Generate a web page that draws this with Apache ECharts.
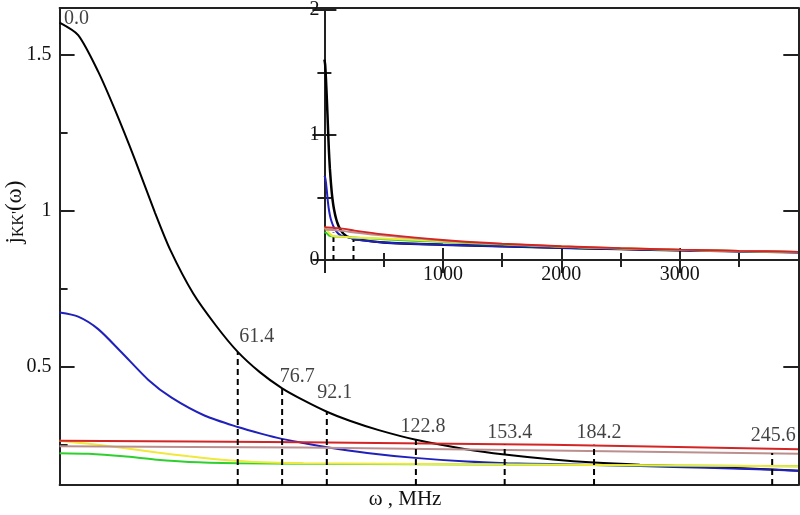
<!DOCTYPE html>
<html><head><meta charset="utf-8">
<script src="https://cdn.jsdelivr.net/npm/echarts@6/dist/echarts.min.js"></script>
<style>html,body{margin:0;padding:0;background:#fff}#c{width:800px;height:515px}</style>
</head><body><div id="c"></div>
<script>
// ---- data (omega in MHz, j_KK'(omega)) ----
const black = [[0,1.603],[6.4,1.563],[13.3,1.446],[19.1,1.323],[26.0,1.163],[32.9,0.993],[38.1,0.875],[46.0,0.735],[54.0,0.630],[61.4,0.547],[69.0,0.482],[76.7,0.430],[84.0,0.392],[92.1,0.355],[100,0.326],[110,0.296],[122.8,0.265],[140,0.235],[153.4,0.218],[170,0.202],[184.2,0.192],[200,0.185],[225,0.177],[245.6,0.170],[254.6,0.166]];
const blue = [[0,0.673],[6.4,0.660],[13.3,0.620],[21.4,0.545],[30.6,0.457],[38.6,0.400],[50.1,0.342],[61.4,0.306],[69.7,0.284],[76.6,0.268],[83.9,0.255],[92.2,0.241],[106,0.223],[122.5,0.207],[140.5,0.195],[154.3,0.190],[169,0.187],[184.6,0.184],[200,0.181],[223,0.175],[246,0.169],[254.6,0.166]];
const green = [[0,0.222],[10,0.220],[22,0.212],[33.6,0.201],[44.5,0.194],[61,0.190],[84,0.188],[169,0.185],[254.6,0.180]];
const yellow = [[0,0.262],[10,0.252],[22,0.239],[33.6,0.224],[44.5,0.212],[56,0.201],[67,0.194],[84,0.190],[169,0.185],[200,0.183],[254.6,0.180]];
const brown = [[0,0.244],[84,0.240],[169,0.231],[254.6,0.220]];
const red = [[0,0.262],[84,0.257],[169,0.249],[254.6,0.235]];

// inset tails (omega up to 4000 MHz)
const tailX = [500,1000,1500,2000,2500,3000,3500,4000];
const blackTail  = [0.140,0.122,0.110,0.098,0.088,0.078,0.070,0.062];
const blueTail   = [0.140,0.122,0.110,0.098,0.088,0.078,0.070,0.062];
const greenTail  = [0.165,0.145,0.124,0.106,0.092,0.081,0.071,0.063];
const yellowTail = [0.172,0.150,0.127,0.108,0.094,0.082,0.072,0.064];
const brownTail  = [0.195,0.155,0.128,0.108,0.094,0.082,0.072,0.064];
const redTail    = [0.205,0.160,0.130,0.110,0.095,0.083,0.073,0.065];

// dashed markers
const dashX = [61.4, 76.7, 92.1, 122.8, 153.4, 184.2, 245.6];
const dashTop = [0.547, 0.43, 0.355, 0.265, 0.249, 0.249, 0.223];
const startPoint = [0, 1.603];
const insetDashX = [76.7, 245.6];
const insetDashTop = [0.22, 0.20];

// ticks
const mainYTicks = [0.5, 1, 1.5];
const mainYMinor = [0.25, 0.75, 1.25];

// ---- layout / style ----
const FONT = '"Liberation Serif", "Times New Roman", serif';
const AX = '#222';
const TXT = '#111';
const COL = {black:'#000000', blue:'#2020bc', green:'#2ed02e', yellow:'#f0e83a', brown:'#bc8f8f', red:'#d42424'};
const labelOffsets = [[17,-4],[19,-15],[15,-12],[8,-19],[7,-13],[5,-12],[5,-12],[1,-17]];
const MAIN_MIN = 0.12, MAIN_MAX = 1.65, MAIN_XMAX = 254.6;

const order = [['black',black,blackTail],['blue',blue,blueTail],['green',green,greenTail],['yellow',yellow,yellowTail],['brown',brown,brownTail],['red',red,redTail]];

const series = [];
order.forEach(([name, d]) => {
  series.push({type:'line', name, xAxisIndex:0, yAxisIndex:0, data:d, symbol:'none',
    smooth:0.25,
    lineStyle:{color:COL[name], width:2}, z:3});
});
order.forEach(([name, d, tail]) => {
  series.push({type:'line', name:name+'-inset', xAxisIndex:2, yAxisIndex:3,
    data:d.concat(tailX.map((x,i)=>[x, tail[i]])), symbol:'none',
    smooth:0.25,
    lineStyle:{color:COL[name], width:name==='black'?2.5:2}, z:3});
});
dashX.forEach((x,i) => {
  series.push({type:'line', xAxisIndex:0, yAxisIndex:0, data:[[x,MAIN_MIN],[x,dashTop[i]]], symbol:'none',
    lineStyle:{color:'#000', width:2, type:[6,4]}, z:4});
});
insetDashX.forEach((x,i) => {
  series.push({type:'line', xAxisIndex:2, yAxisIndex:3, data:[[x,0],[x,insetDashTop[i]]], symbol:'none',
    lineStyle:{color:'#000', width:2, type:[5,4]}, z:2});
});
const labelPts = [startPoint].concat(dashX.map((x,i)=>[x,dashTop[i]]));
series.push({type:'scatter', xAxisIndex:0, yAxisIndex:0, symbolSize:0, z:6,
  data: labelPts.map((p,i)=>({value:p, label:{offset:labelOffsets[i]}})),
  label:{show:true, position:'inside', formatter:p=>p.value[0].toFixed(1),
    fontFamily:FONT, fontSize:20, color:TXT}});

const axLine = {show:true, lineStyle:{color:AX, width:2}};
const option = {
  animation:false,
  backgroundColor:'#fff',
  grid:[
    {left:59.6, right:1.7, top:8, bottom:30},
    {left:324.4, right:1.7, top:8, height:252, show:true, backgroundColor:'#fff', borderWidth:0}
  ],
  xAxis:[
    {gridIndex:0, type:'value', min:0, max:MAIN_XMAX, position:'bottom', axisLine:axLine, axisTick:{show:false}, axisLabel:{show:false}, splitLine:{show:false}},
    {gridIndex:0, type:'value', min:0, max:MAIN_XMAX, position:'top', axisLine:axLine, axisTick:{show:false}, axisLabel:{show:false}, splitLine:{show:false}},
    {gridIndex:1, type:'value', min:0, max:4000, interval:1000, position:'bottom', axisLine:axLine,
      axisTick:{inside:true, length:12, lineStyle:{color:AX, width:2}},
      minorTick:{show:true, splitNumber:2, length:7, lineStyle:{color:AX, width:2}},
      axisLabel:{showMinLabel:false, showMaxLabel:false, fontFamily:FONT, fontSize:20, color:TXT, margin:5,
        formatter:v=>String(v)},
      splitLine:{show:false}, minorSplitLine:{show:false}},
    {gridIndex:1, type:'value', min:0, max:4000, interval:1000, position:'top', axisLine:axLine,
      axisTick:{inside:true, length:13, lineStyle:{color:AX, width:2}},
      minorTick:{show:true, splitNumber:2, length:7, lineStyle:{color:AX, width:2}},
      axisLabel:{show:false}, splitLine:{show:false}}
  ],
  yAxis:[
    {gridIndex:0, type:'value', min:MAIN_MIN, max:MAIN_MAX, position:'left', axisLine:axLine,
      axisTick:{inside:true, length:15, customValues:mainYTicks, lineStyle:{color:AX, width:2}},
      axisLabel:{customValues:mainYTicks, fontFamily:FONT, fontSize:20, color:TXT, margin:8},
      splitLine:{show:false}},
    {gridIndex:0, type:'value', min:MAIN_MIN, max:MAIN_MAX, position:'left', axisLine:{show:false},
      axisTick:{inside:true, length:8, customValues:mainYMinor, lineStyle:{color:AX, width:2}},
      axisLabel:{show:false}, splitLine:{show:false}},
    {gridIndex:0, type:'value', min:MAIN_MIN, max:MAIN_MAX, position:'right', axisLine:axLine, z:10,
      axisTick:{inside:true, length:15, customValues:mainYTicks, lineStyle:{color:AX, width:2}},
      axisLabel:{show:false}, splitLine:{show:false}},
    {gridIndex:1, type:'value', min:0, max:2, interval:1, position:'left', axisLine:axLine,
      axisTick:{inside:true, length:12, lineStyle:{color:AX, width:2}},
      minorTick:{show:true, splitNumber:2, length:7, lineStyle:{color:AX, width:2}},
      axisLabel:{fontFamily:FONT, fontSize:20, color:TXT, margin:5},
      splitLine:{show:false}, minorSplitLine:{show:false}},
    {gridIndex:1, type:'value', min:0, max:2, interval:1, position:'right', axisLine:axLine,
      axisTick:{inside:true, length:12, lineStyle:{color:AX, width:2}},
      minorTick:{show:true, splitNumber:2, length:7, lineStyle:{color:AX, width:2}},
      axisLabel:{show:false}, splitLine:{show:false}, minorSplitLine:{show:false}}
  ],
  graphic:[
    {type:'text', x:15, y:212, rotation:Math.PI/2, z:20,
      style:{text:'{a|j}{b|KK\'}{a|(ω)}', align:'center', verticalAlign:'middle',
        rich:{a:{fontFamily:FONT, fontSize:23, fill:TXT}, b:{fontFamily:FONT, fontSize:16, fill:TXT, verticalAlign:'bottom'}}}},
    {type:'text', x:405, y:499, z:20,
      style:{text:'ω , MHz', fontFamily:FONT, fontSize:21, fill:TXT, align:'center', verticalAlign:'middle'}}
  ],
  series
};
const chart = echarts.init(document.getElementById('c'), null, {renderer:'canvas'});
chart.setOption(option);
</script></body></html>
